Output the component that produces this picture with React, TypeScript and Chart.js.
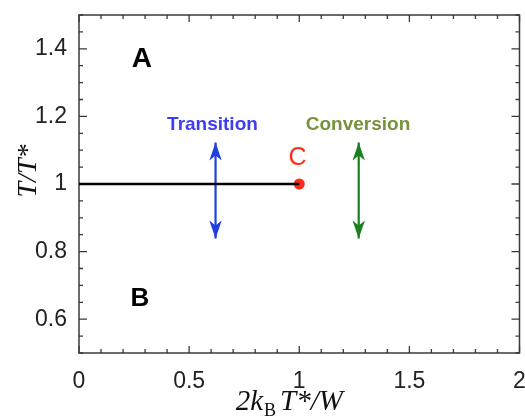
import React, { useEffect, useRef } from "react";
import { Chart, registerables } from "chart.js";

Chart.register(...registerables);

// Axis extents and labelled ticks
const xRange = [0, 2];
const yRange = [0.5, 1.5];
const xTicks = [0, 0.5, 1, 1.5, 2];
const yTicks = [0.6, 0.8, 1, 1.2, 1.4];
const xMinorStep = 0.1;
const yMinorStep = 0.05;

// First-order boundary ending at the critical point C
const boundaryX = [0, 1];
const boundaryY = [1, 1];
const criticalX = [1];
const criticalY = [1];

// Double-headed arrows crossing / bypassing the boundary
const transitionArrowX = [0.62, 0.62];
const transitionArrowY = [0.839, 1.123];
const conversionArrowX = [1.27, 1.27];
const conversionArrowY = [0.839, 1.123];

// Text annotations (data coordinates)
const regionNames = ["A", "B"];
const regionX = [0.285, 0.277];
const regionY = [1.37, 0.66];
const arrowNames = ["Transition", "Conversion"];
const arrowNameX = [0.606, 1.267];
const arrowNameY = [1.176, 1.176];
const pointName = "C";
const pointNameX = 0.992;
const pointNameY = 1.077;

const toPoints = (xs: number[], ys: number[]) => xs.map((x, i) => ({ x, y: ys[i] }));

const SANS = '"Liberation Sans", Arial, Helvetica, sans-serif';
const SERIF = '"Liberation Serif", "Times New Roman", serif';

// Frame around the plot area with inward major/minor ticks on all four sides
const framePlugin = {
  id: "frameTicks",
  beforeDatasetsDraw(chart: any) {
    const { ctx, chartArea: a, scales } = chart;
    const xs = scales.x;
    const ys = scales.y;
    ctx.save();
    ctx.strokeStyle = "#3a3a3a";
    ctx.lineWidth = 1.5;
    ctx.strokeRect(a.left, a.top, a.right - a.left, a.bottom - a.top);
    ctx.lineWidth = 1.3;
    const isMajor = (v: number, list: number[]) => list.some((t) => Math.abs(t - v) < 1e-6);
    ctx.beginPath();
    const nx = Math.round((xRange[1] - xRange[0]) / xMinorStep);
    for (let i = 0; i <= nx; i++) {
      const v = xRange[0] + i * xMinorStep;
      const px = xs.getPixelForValue(v);
      const len = isMajor(v, xTicks) ? 7 : 4;
      ctx.moveTo(px, a.bottom);
      ctx.lineTo(px, a.bottom - len);
      ctx.moveTo(px, a.top);
      ctx.lineTo(px, a.top + len);
    }
    const ny = Math.round((yRange[1] - yRange[0]) / yMinorStep);
    for (let i = 0; i <= ny; i++) {
      const v = yRange[0] + i * yMinorStep;
      const py = ys.getPixelForValue(v);
      const len = isMajor(v, yTicks) ? 8 : 4;
      ctx.moveTo(a.left, py);
      ctx.lineTo(a.left + len, py);
      ctx.moveTo(a.right, py);
      ctx.lineTo(a.right - len, py);
    }
    ctx.stroke();
    ctx.restore();
  },
};

// Arrow heads at both ends of datasets flagged as arrows
const arrowPlugin = {
  id: "arrowHeads",
  afterDatasetsDraw(chart: any) {
    const { ctx } = chart;
    chart.data.datasets.forEach((ds: any, i: number) => {
      if (!ds.doubleArrow) return;
      const pts = chart.getDatasetMeta(i).data;
      if (pts.length < 2) return;
      const p0 = pts[0];
      const p1 = pts[pts.length - 1];
      const head = (tip: any, from: any) => {
        const ang = Math.atan2(tip.y - from.y, tip.x - from.x);
        const L = 18;
        const W = 6.2;
        const N = 13;
        ctx.save();
        ctx.translate(tip.x, tip.y);
        ctx.rotate(ang);
        ctx.beginPath();
        ctx.moveTo(0, 0);
        ctx.lineTo(-L, W);
        ctx.lineTo(-N, 0);
        ctx.lineTo(-L, -W);
        ctx.closePath();
        ctx.fillStyle = ds.borderColor;
        ctx.fill();
        ctx.restore();
      };
      head(p1, p0);
      head(p0, p1);
    });
  },
};

// Region, arrow and point labels plus the two axis titles
const textPlugin = {
  id: "annotations",
  afterDraw(chart: any) {
    const { ctx, chartArea: a, scales } = chart;
    const xs = scales.x;
    const ys = scales.y;
    ctx.save();
    ctx.textAlign = "center";
    ctx.textBaseline = "middle";

    const regionFonts = ["bold 28px " + SANS, "bold 26px " + SANS];
    regionNames.forEach((t, i) => {
      ctx.font = regionFonts[i];
      ctx.fillStyle = "#000";
      ctx.fillText(t, xs.getPixelForValue(regionX[i]), ys.getPixelForValue(regionY[i]));
    });

    const arrowColors = ["#3d3df2", "#76923c"];
    arrowNames.forEach((t, i) => {
      ctx.font = "bold 19px " + SANS;
      ctx.fillStyle = arrowColors[i];
      ctx.fillText(t, xs.getPixelForValue(arrowNameX[i]), ys.getPixelForValue(arrowNameY[i]));
    });

    ctx.font = "25px " + SANS;
    ctx.fillStyle = "#ff2a1a";
    ctx.fillText(pointName, xs.getPixelForValue(pointNameX), ys.getPixelForValue(pointNameY));

    // x title: 2k_B T*/W
    ctx.fillStyle = "#111";
    ctx.textBaseline = "alphabetic";
    ctx.textAlign = "left";
    const big = "italic 29px " + SERIF;
    const sub = "18px " + SERIF;
    const parts = [
      { t: "2k", f: big, dy: 0, gap: 1 },
      { t: "B", f: sub, dy: 6, gap: 4 },
      { t: "T*/W", f: big, dy: 0, gap: 0 },
    ];
    let total = 0;
    parts.forEach((p) => {
      ctx.font = p.f;
      total += ctx.measureText(p.t).width + p.gap;
    });
    let x = (a.left + a.right) / 2 - 10 - total / 2;
    const base = 410;
    parts.forEach((p) => {
      ctx.font = p.f;
      ctx.fillText(p.t, x, base + p.dy);
      x += ctx.measureText(p.t).width + p.gap;
    });

    // y title: T/T*
    ctx.save();
    ctx.translate(36, 171);
    ctx.rotate(-Math.PI / 2);
    ctx.textAlign = "center";
    ctx.font = "italic 28px " + SERIF;
    ctx.fillText("T/T*", 0, 0);
    ctx.restore();

    ctx.restore();
  },
};

export default function App() {
  const canvasRef = useRef<HTMLCanvasElement | null>(null);

  useEffect(() => {
    const canvas = canvasRef.current;
    if (!canvas) return;
    const chart = new Chart(canvas, {
      type: "scatter",
      data: {
        datasets: [
          {
            label: "boundary",
            data: toPoints(boundaryX, boundaryY),
            showLine: true,
            borderColor: "#000",
            borderWidth: 2.6,
            pointRadius: 0,
          },
          {
            label: "transition",
            data: toPoints(transitionArrowX, transitionArrowY),
            showLine: true,
            borderColor: "#1f3fe0",
            borderWidth: 2.2,
            pointRadius: 0,
            doubleArrow: true,
          } as any,
          {
            label: "conversion",
            data: toPoints(conversionArrowX, conversionArrowY),
            showLine: true,
            borderColor: "#1a7f1f",
            borderWidth: 2.2,
            pointRadius: 0,
            doubleArrow: true,
          } as any,
          {
            label: "critical point",
            data: toPoints(criticalX, criticalY),
            backgroundColor: "#ff2a1a",
            borderColor: "#ff2a1a",
            pointRadius: 5.5,
            borderWidth: 0,
          },
        ],
      },
      options: {
        animation: false,
        responsive: false,
        events: [],
        layout: { padding: { top: 15, right: 4, left: 0, bottom: 0 } },
        plugins: {
          legend: { display: false },
          tooltip: { enabled: false },
        },
        scales: {
          x: {
            type: "linear",
            min: xRange[0],
            max: xRange[1],
            grid: { display: false, drawTicks: false },
            border: { display: false },
            afterBuildTicks: (s: any) => {
              s.ticks = xTicks.map((v) => ({ value: v }));
            },
            afterFit: (s: any) => {
              s.height = 65;
              s.paddingLeft = 0;
              s.paddingRight = 0;
            },
            ticks: {
              padding: 15,
              color: "#222",
              font: { family: SANS, size: 23 },
              maxRotation: 0,
              callback: (v: any) => String(v),
            },
          },
          y: {
            type: "linear",
            min: yRange[0],
            max: yRange[1],
            grid: { display: false, drawTicks: false },
            border: { display: false },
            afterBuildTicks: (s: any) => {
              s.ticks = yTicks.map((v) => ({ value: v }));
            },
            afterFit: (s: any) => {
              s.width = 79;
              s.paddingTop = 0;
              s.paddingBottom = 0;
            },
            ticks: {
              padding: 12,
              color: "#222",
              font: { family: SANS, size: 23 },
              callback: (v: any) => String(Math.round(v * 10) / 10),
            },
          },
        },
      },
      plugins: [framePlugin, arrowPlugin, textPlugin],
    });
    return () => chart.destroy();
  }, []);

  return (
    <div style={{ position: "fixed", left: 0, top: 0, width: 525, height: 418, background: "#fff" }}>
      <canvas ref={canvasRef} width={525} height={418} style={{ width: 525, height: 418 }} />
    </div>
  );
}
